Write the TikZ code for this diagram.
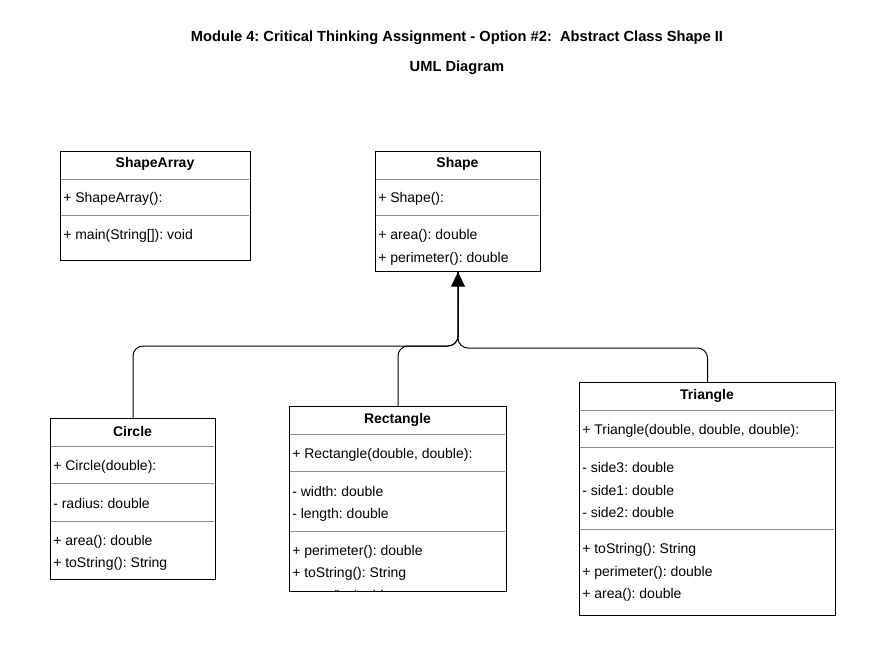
\documentclass[tikz,border=0pt]{standalone}
\usepackage{fontspec}
\setmainfont{Liberation Sans}
\usetikzlibrary{arrows.meta,calc}
\frenchspacing
\begin{document}
\begin{tikzpicture}[x=0.75pt,y=-0.75pt,
  every node/.style={font=\fontsize{10.5}{12}\selectfont, text=black},
  cls/.style={draw=black, line width=0.75pt, anchor=north west, inner sep=0pt, fill=white},
  member/.style={anchor=west, inner sep=0pt, yshift=-1.3pt},
  ctitle/.style={anchor=center, inner sep=0pt, yshift=-1.3pt, font=\fontsize{10.5}{12}\selectfont\bfseries},
  divider/.style={draw=black!45, line width=0.75pt},
  conn/.style={draw=black, line width=0.75pt, rounded corners=7.5pt},
  ttl/.style={font=\fontsize{11}{13}\selectfont\bfseries, inner sep=0pt, yshift=-1.3pt}]
\useasboundingbox (0,0) rectangle (872,661);
% title
\node[ttl] (t1) at (457,36) {Module 4: Critical Thinking Assignment - Option \#2:\ \ Abstract Class Shape II};
\node[ttl] (t2) at (457,66) {UML Diagram};

% ShapeArray
\node[cls, minimum width=0.75*190pt, minimum height=0.75*109pt] (sa) at (60,151) {};
\node[ctitle] (saT) at (155,162) {ShapeArray};
\draw[divider] (61,179) -- (249,179);
\draw[divider] (61,215) -- (249,215);
\node[member] (sa1) at (63,197) {+ ShapeArray():};
\node[member] (sa2) at (63,234) {+ main(String[]): void};

% Shape
\node[cls, minimum width=0.75*165pt, minimum height=0.75*120pt] (sh) at (375,151) {};
\node[ctitle] (shT) at (457.5,162) {Shape};
\draw[divider] (376,179) -- (539,179);
\draw[divider] (376,215) -- (539,215);
\node[member] (sh1) at (378,197) {+ Shape():};
\node[member] (sh2) at (378,234) {+ area(): double};
\node[member] (sh3) at (378,257) {+ perimeter(): double};

% Circle
\node[cls, minimum width=0.75*165pt, minimum height=0.75*161pt] (ci) at (50,418) {};
\node[ctitle] (ciT) at (132.5,430) {Circle};
\draw[divider] (51,446) -- (214,446);
\draw[divider] (51,483) -- (214,483);
\draw[divider] (51,521) -- (214,521);
\node[member] (ci1) at (53,465) {+ Circle(double):};
\node[member] (ci2) at (53,502) {- radius: double};
\node[member] (ci3) at (53,540) {+ area(): double};
\node[member] (ci4) at (53,562) {+ toString(): String};

% Rectangle
\node[cls, minimum width=0.75*217pt, minimum height=0.75*185pt] (re) at (289,406) {};
\node[ctitle] (reT) at (397.5,418) {Rectangle};
\draw[divider] (290,434) -- (505,434);
\draw[divider] (290,471) -- (505,471);
\draw[divider] (290,531) -- (505,531);
\node[member] (re1) at (292,453) {+ Rectangle(double, double):};
\node[member] (re2) at (292,490) {- width: double};
\node[member] (re3) at (292,513) {- length: double};
\node[member] (re4) at (292,550) {+ perimeter(): double};
\node[member] (re5) at (292,572) {+ toString(): String};
\begin{scope}
\clip (290,407) rectangle (505,590);
\node[member] (re6) at (292,595) {+ area(): double};
\end{scope}

% Triangle
\node[cls, minimum width=0.75*256pt, minimum height=0.75*233pt] (tr) at (579,382) {};
\node[ctitle] (trT) at (707,394) {Triangle};
\draw[divider] (580,410) -- (834,410);
\draw[divider] (580,447) -- (834,447);
\draw[divider] (580,529) -- (834,529);
\node[member] (tr1) at (582,429) {+ Triangle(double, double, double):};
\node[member] (tr2) at (582,466) {- side3: double};
\node[member] (tr3) at (582,489) {- side1: double};
\node[member] (tr4) at (582,511) {- side2: double};
\node[member] (tr5) at (582,548) {+ toString(): String};
\node[member] (tr6) at (582,571) {+ perimeter(): double};
\node[member] (tr7) at (582,593) {+ area(): double};

% connectors
\draw[conn] (ci.north) |- ($(sh.south)+(0,74)$) -- (sh.south);
\draw[conn] (re.north) |- ($(sh.south)+(0,74)$) -- (sh.south);
\draw[conn] (tr.north) |- ($(sh.south)+(0,76)$) -- (sh.south);
\draw[line width=0.75pt, -{Triangle[width=10.5pt,length=11pt]}] ($(sh.south)+(0,30)$) -- (sh.south);
\end{tikzpicture}
\end{document}
